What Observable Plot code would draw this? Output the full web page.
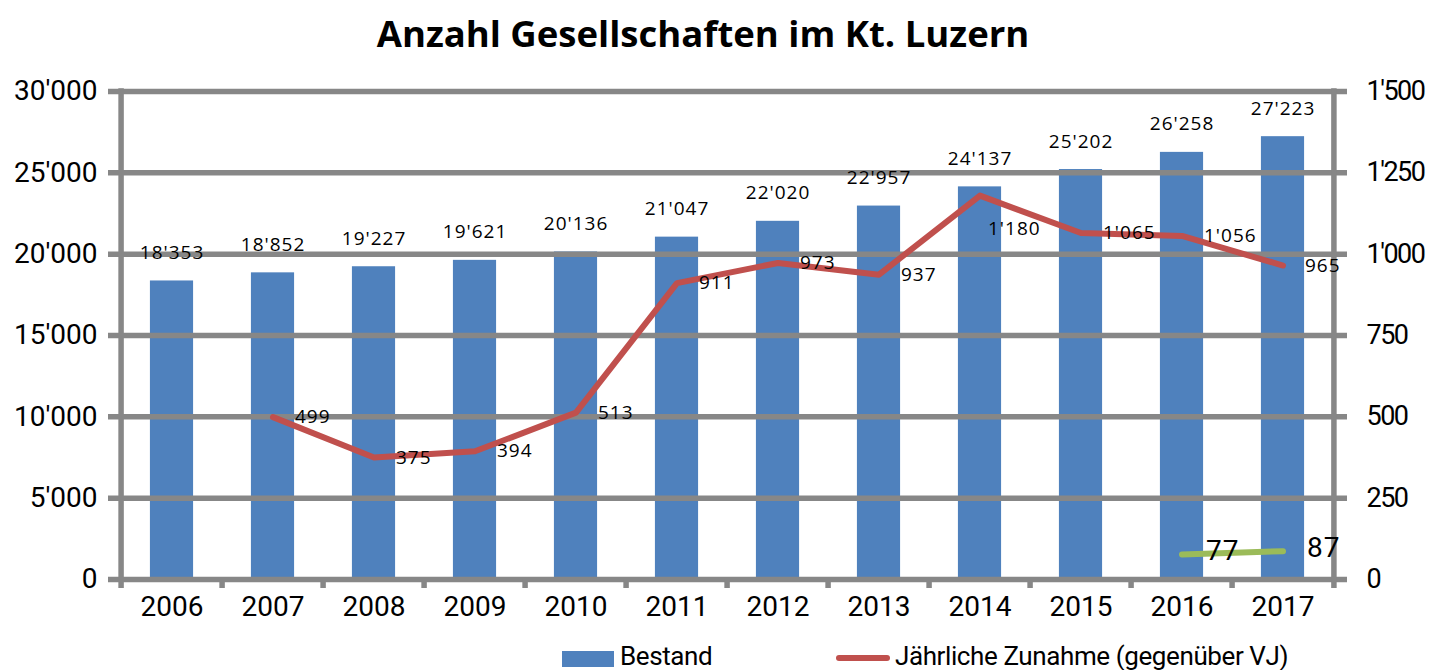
<!DOCTYPE html>
<html><head><meta charset="utf-8">
<script src="https://cdn.jsdelivr.net/npm/d3@7"></script>
<script src="https://cdn.jsdelivr.net/npm/@observablehq/plot@0.6"></script>
<style>
html,body{margin:0;padding:0;background:#fff;}
body{width:1430px;height:670px;overflow:hidden;position:relative;font-family:Roboto,sans-serif;color:#000}
#title{position:absolute;left:0;top:0;width:1406px;height:70px;text-align:center;font-family:"Open Sans",sans-serif;font-weight:700;font-size:36.5px;line-height:66px}
#chart{position:absolute;left:0;top:70px}
.sw{position:absolute}
.lt{position:absolute;font-family:Roboto,sans-serif;font-size:26px;line-height:30px;white-space:nowrap;letter-spacing:-0.4px}
</style></head><body>
<div id="title">Anzahl Gesellschaften im Kt. Luzern</div>
<div id="chart"></div>
<div class="sw" style="left:562px;top:651px;width:52px;height:16px;background:#4F81BD"></div>
<div class="lt" style="left:620px;top:641px">Bestand</div>
<div class="sw" style="left:836px;top:655px;width:54px;height:6px;border-radius:3px;background:#C0504D"></div>
<div class="lt" style="left:895px;top:641px">Jährliche Zunahme (gegenüber VJ)</div>
<script>
// ---- data ----
const years = [2006, 2007, 2008, 2009, 2010, 2011, 2012, 2013, 2014, 2015, 2016, 2017];
const bestand = [18353, 18852, 19227, 19621, 20136, 21047, 22020, 22957, 24137, 25202, 26258, 27223];
const zunahmeYears = [2007, 2008, 2009, 2010, 2011, 2012, 2013, 2014, 2015, 2016, 2017];
const zunahme = [499, 375, 394, 513, 911, 973, 937, 1180, 1065, 1056, 965];
const greenYears = [2016, 2017];
const greenValues = [77, 87];
const leftTicks = [0, 5000, 10000, 15000, 20000, 25000, 30000];
const rightTicks = [0, 250, 500, 750, 1000, 1250, 1500];

// ---- build ----
const fmt = d3.formatLocale({decimal: ".", thousands: "'", grouping: [3], currency: ["", ""]}).format(",");
const ratio = leftTicks[leftTicks.length - 1] / rightTicks[rightTicks.length - 1];
const barData = years.map((y, i) => ({year: y, value: bestand[i]}));
const zData = zunahmeYears.map((y, i) => ({year: y, value: zunahme[i]}));
const gData = greenYears.map((y, i) => ({year: y, value: greenValues[i]}));
const zMax = d3.max(zunahme);

const W = 1430, H = 560, mL = 116, mR = 92, mT = 21, mB = 51;
const bw = (W - mL - mR) / years.length;
const inset = (bw - 44) / 2;
const gray = "#878787";
const gw = 5.5;
const labelFont = "Open Sans, sans-serif";

const chart = Plot.plot({
  width: W, height: H,
  marginLeft: mL, marginRight: mR, marginTop: mT, marginBottom: mB,
  style: {fontFamily: "Roboto, sans-serif", fontSize: "28px", color: "#000", background: "#fff", overflow: "visible"},
  x: {type: "band", domain: years, padding: 0, axis: null},
  y: {domain: [0, leftTicks[leftTicks.length - 1]], axis: null, label: null},
  marks: [
    Plot.barY(barData, {x: "year", y: "value", fill: "#4F81BD", insetLeft: inset, insetRight: inset}),
    Plot.ruleY(leftTicks, {y: d => d, stroke: gray, strokeWidth: gw, insetLeft: -8, insetRight: -9}),
    Plot.ruleX([years[0]], {x: d => d, dx: -bw / 2, stroke: gray, strokeWidth: gw, insetTop: -gw / 2, insetBottom: -9}),
    Plot.ruleX([years[years.length - 1]], {x: d => d, dx: bw / 2, stroke: gray, strokeWidth: gw, insetTop: -gw / 2, insetBottom: -9}),
    Plot.ruleX(years.slice(1), {x: d => d, dx: -bw / 2, y1: 0, y2: 0, insetBottom: -9, stroke: gray, strokeWidth: gw}),
    Plot.line(zData, {x: "year", y: d => d.value * ratio, stroke: "#C0504D", strokeWidth: 6, strokeLinecap: "round", strokeLinejoin: "round"}),
    Plot.line(gData, {x: "year", y: d => d.value * ratio, stroke: "#9BBB59", strokeWidth: 6, strokeLinecap: "round", strokeLinejoin: "round"}),
    Plot.text(barData, {x: "year", y: "value", text: d => fmt(d.value), dy: -28, fontSize: 19, fontFamily: labelFont, fill: "#000"}),
    Plot.text(zData.filter(d => d.value !== zMax), {x: "year", y: d => d.value * ratio, text: d => fmt(d.value), dx: 22, textAnchor: "start", fontSize: 19, fontFamily: labelFont, fill: "#000"}),
    Plot.text(zData.filter(d => d.value === zMax), {x: "year", y: d => d.value * ratio, text: d => fmt(d.value), dx: 8, dy: 33, textAnchor: "start", fontSize: 19, fontFamily: labelFont, fill: "#000"}),
    Plot.text(gData, {x: "year", y: d => d.value * ratio, text: d => fmt(d.value), dx: 24, dy: -3, textAnchor: "start", fontSize: 28, fontFamily: "Roboto, sans-serif", fill: "#000"}),
    Plot.axisY({anchor: "left", ticks: leftTicks, tickSize: 0, tickPadding: 19, tickFormat: fmt, label: null, fontSize: 28}),
    Plot.axisY({anchor: "right", ticks: rightTicks.map(v => v * ratio), tickSize: 0, tickPadding: 28, tickFormat: d => fmt(d / ratio), label: null, fontSize: 27}),
    Plot.axisX({ticks: years, tickSize: 0, tickPadding: 17, tickFormat: d => String(d), label: null, fontSize: 28})
  ]
});
document.getElementById("chart").appendChild(chart);
d3.select(chart).selectAll("g[aria-label='text'] text").style("letter-spacing", "1px");
d3.select(chart).selectAll("g[aria-label='y-axis tick label']")
  .filter(function () { return this.getAttribute("text-anchor") === "start"; })
  .selectAll("text").style("letter-spacing", "-1.5px");
</script>
</body></html>
